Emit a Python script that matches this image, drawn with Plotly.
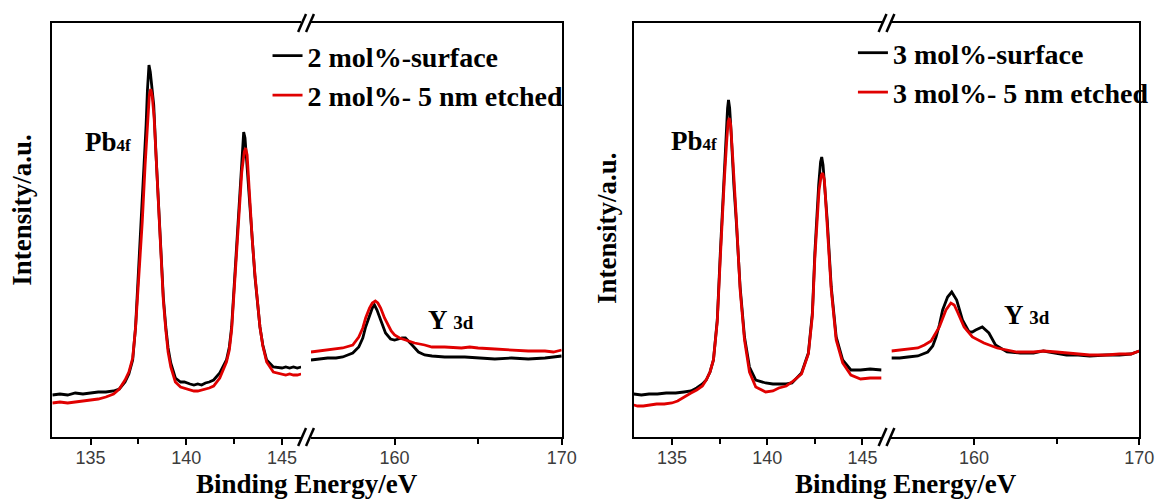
import plotly.graph_objects as go

W, H = 1171, 499

# ---------------- data (binding energy / eV, intensity / a.u.) ----------------
# Panel A (2 mol%), low-energy segment (Pb 4f)
a1_e_s = [133.0, 133.4, 133.8, 134.2, 134.6, 135.0, 135.4, 135.8, 136.2, 136.5, 136.8, 137.0, 137.2, 137.35,
          137.5, 137.6, 137.7, 137.8, 137.9, 137.97, 138.05, 138.12, 138.2, 138.3, 138.42, 138.57, 138.67, 138.8,
          138.93, 139.05, 139.19, 139.43, 139.7, 139.9, 140.2, 140.4, 140.6, 140.8, 141.0, 141.2, 141.43, 141.75,
          142.1, 142.25, 142.37, 142.53, 142.72, 142.85, 142.95, 143.0, 143.07, 143.2, 143.33, 143.45, 143.59,
          143.85, 144.0, 144.2, 144.55, 145.0, 145.2, 145.4, 145.6, 145.8, 146.0]
a1_i_s = [42, 43, 42, 44, 43, 44, 45, 45, 46, 48, 55, 63, 77, 110,
          165, 197, 227, 267, 312, 347, 372, 365, 349, 332, 282, 225, 177, 140,
          110, 89, 74, 59, 55, 55, 53, 52, 53, 52, 54, 55, 57, 64,
          77, 90, 110, 160, 227, 267, 297, 305, 299, 262, 227, 192, 160,
          110, 92, 77, 70, 69, 70, 69, 70, 69, 70]
a1_e_e = [133.0, 133.4, 133.8, 134.2, 134.6, 135.0, 135.4, 135.8, 136.2, 136.5, 136.8, 137.0, 137.2, 137.35,
          137.5, 137.6, 137.7, 137.85, 138.0, 138.07, 138.14, 138.22, 138.32, 138.42, 138.57, 138.67, 138.8,
          138.93, 139.05, 139.19, 139.43, 139.7, 139.9, 140.2, 140.4, 140.6, 140.8, 141.0, 141.2, 141.43, 141.75,
          142.1, 142.25, 142.37, 142.53, 142.72, 142.9, 143.03, 143.1, 143.18, 143.33, 143.45, 143.59,
          143.85, 144.0, 144.2, 144.55, 145.0, 145.2, 145.4, 145.6, 145.8, 146.0]
a1_i_e = [34, 35, 34, 35, 36, 37, 38, 40, 43, 48, 57, 65, 79, 109,
          152, 182, 215, 272, 327, 342, 348, 341, 319, 282, 225, 177, 137,
          107, 85, 70, 55, 50, 49, 47, 46, 46, 47, 48, 49, 51, 59,
          75, 87, 107, 153, 215, 265, 285, 289, 282, 232, 197, 162,
          110, 91, 75, 65, 63, 62, 63, 62, 62, 63]
# Panel A, high-energy segment (Y 3d)
a2_e_s = [155.0, 155.5, 156.0, 156.5, 156.9, 157.2, 157.5, 157.86, 158.1, 158.27, 158.5, 158.67, 158.8, 158.95,
          159.17, 159.46, 159.76, 160.0, 160.24, 160.45, 160.65, 160.85, 161.05, 161.43, 161.8, 162.24, 163.0,
          164.2, 165.0, 166.0, 167.0, 168.0, 169.0, 169.5, 170.0]
a2_i_s = [77, 78, 79, 79, 80, 82, 84, 90, 99, 110, 122, 129, 132, 127,
          117, 104, 98, 97, 98, 99, 99, 96, 92, 85, 82, 81, 80,
          80, 79, 78, 79, 78, 79, 80, 81]
a2_e_e = [155.0, 155.5, 156.0, 156.5, 156.9, 157.5, 157.86, 158.1, 158.27, 158.5, 158.67, 158.85, 159.0, 159.17,
          159.4, 159.8, 160.0, 160.3, 160.65, 161.2, 161.8, 162.24, 163.0, 164.0, 164.5, 165.0, 166.0, 167.0,
          168.0, 169.0, 169.5, 170.0]
a2_i_e = [85, 86, 87, 88, 89, 92, 100, 109, 119, 129, 134, 136, 134, 129,
          119, 106, 102, 99, 97, 94, 92, 90, 90, 89, 90, 89, 88, 87,
          86, 86, 85, 87]

# Panel B (3 mol%), low-energy segment (Pb 4f)
b1_e_s = [133.0, 133.4, 133.8, 134.24, 134.7, 135.2, 135.63, 136.0, 136.3, 136.6, 136.8, 137.0, 137.18, 137.38,
          137.54, 137.62, 137.75, 137.85, 137.92, 137.97, 138.03, 138.1, 138.15, 138.25, 138.38, 138.58, 138.81,
          139.07, 139.4, 139.92, 140.3, 140.61, 141.0, 141.3, 141.8, 142.16, 142.37, 142.5, 142.59, 142.7, 142.8,
          142.86, 142.93, 143.05, 143.15, 143.36, 143.62, 143.96, 144.39, 144.9, 145.4, 146.0]
b1_i_s = [43, 42, 43, 43, 44, 44, 45, 46, 49, 53, 57, 65, 77, 117,
          184, 215, 272, 307, 329, 337, 329, 307, 285, 252, 215, 150, 100,
          70, 57, 54, 53, 53, 53, 54, 64, 84, 124, 184, 217, 252, 275,
          280, 272, 242, 217, 150, 100, 77, 67, 67, 68, 67]
b1_e_e = [133.0, 133.2, 133.5, 133.8, 134.2, 134.6, 135.0, 135.3, 135.63, 136.0, 136.3, 136.6, 136.8, 137.0,
          137.18, 137.38, 137.54, 137.62, 137.75, 137.88, 137.95, 138.01, 138.08, 138.2, 138.3, 138.4, 138.58,
          138.81, 139.07, 139.4, 139.92, 140.3, 140.61, 141.0, 141.3, 141.8, 142.16, 142.37, 142.5, 142.59,
          142.72, 142.84, 142.91, 143.0, 143.15, 143.36, 143.62, 143.96, 144.39, 144.9, 145.4, 146.0]
b1_i_e = [32, 31, 31, 32, 33, 33, 34, 36, 40, 44, 47, 51, 57, 65,
          77, 115, 179, 212, 257, 297, 315, 319, 313, 277, 247, 212, 147,
          97, 65, 50, 45, 46, 49, 51, 55, 63, 83, 121, 179, 211,
          247, 262, 264, 257, 215, 147, 97, 74, 62, 58, 59, 59]
# Panel B, high-energy segment (Y 3d)
b2_e_s = [155.0, 155.5, 156.0, 156.6, 157.2, 157.5, 157.7, 157.9, 158.1, 158.4, 158.65, 158.95, 159.3, 159.7,
          159.9, 160.1, 160.5, 160.9, 161.3, 162.0, 162.8, 163.6, 164.2, 165.0, 165.6, 166.3, 167.0, 168.0,
          168.8, 169.5, 170.0]
b2_i_s = [79, 79, 80, 81, 85, 91, 100, 112, 127, 140, 145, 137, 117, 105,
          105, 107, 110, 104, 92, 85, 84, 84, 86, 84, 82, 82, 81, 82,
          82, 83, 86]
b2_e_e = [155.0, 155.5, 156.0, 156.6, 157.0, 157.4, 157.9, 158.3, 158.6, 158.8, 159.0, 159.4, 159.9, 160.6,
          161.4, 162.0, 162.6, 163.6, 164.2, 165.0, 165.6, 166.3, 167.0, 168.0, 168.8, 169.5, 170.0]
b2_i_e = [86, 87, 88, 89, 92, 96, 110, 127, 134, 132, 125, 110, 100, 94,
          89, 87, 85, 85, 86, 85, 84, 83, 82, 82, 83, 83, 86]

names_a = ["2 mol%-surface", "2 mol%- 5 nm etched"]
names_b = ["3 mol%-surface", "3 mol%- 5 nm etched"]
low_ticks = [135, 140, 145]
low_minor = [137.5, 142.5]
high_ticks = [160, 170]
high_minor = [165]
low_range = [133, 146]
high_range = [155, 170]
y_range = [0, 414]

# ---------------- layout geometry (pixels) ----------------
TOP, BOT = 23, 437
A1, A2 = (53, 305), (315, 569)
B1, B2 = (642, 893), (903, 1154)

def fx(p):
    return p / W

def fy(p):
    return 1 - p / H

BLACK = "#000000"
RED = "#e00000"
SERIF = "Liberation Serif, Times New Roman, serif"
SANS = "Liberation Sans, Arial, sans-serif"

fig = go.Figure()

def add_pair(xa, ya, e_s, i_s, e_e, i_e, names, legend, show):
    fig.add_trace(go.Scatter(x=e_s, y=i_s, mode="lines", name=names[0], xaxis=xa, yaxis=ya,
                             line=dict(color=BLACK, width=2.8), legend=legend, legendgroup=legend + "s",
                             showlegend=show))
    fig.add_trace(go.Scatter(x=e_e, y=i_e, mode="lines", name=names[1], xaxis=xa, yaxis=ya,
                             line=dict(color=RED, width=2.8), legend=legend, legendgroup=legend + "e",
                             showlegend=show))

add_pair("x", "y", a1_e_s, a1_i_s, a1_e_e, a1_i_e, names_a, "legend", True)
add_pair("x2", "y2", a2_e_s, a2_i_s, a2_e_e, a2_i_e, names_a, "legend", False)
add_pair("x3", "y3", b1_e_s, b1_i_s, b1_e_e, b1_i_e, names_b, "legend2", True)
add_pair("x4", "y4", b2_e_s, b2_i_s, b2_e_e, b2_i_e, names_b, "legend2", False)

def xax(dom, rng, ticks, minor, anchor):
    return dict(domain=[fx(dom[0]), fx(dom[1])], range=rng, anchor=anchor,
                showline=True, linecolor=BLACK, linewidth=2, mirror=True,
                showgrid=False, zeroline=False,
                tickmode="array", tickvals=ticks, ticktext=[str(t) for t in ticks],
                ticks="outside", ticklen=6, tickwidth=2, tickcolor=BLACK,
                ticklabelstandoff=-3,
                tickfont=dict(family=SANS, size=18, color="#3c3c3c"),
                minor=dict(tickmode="array", tickvals=minor, ticks="outside", ticklen=5,
                           tickwidth=2, tickcolor=BLACK, showgrid=False))

def yax(anchor, side):
    return dict(domain=[fy(BOT), fy(TOP)], range=y_range, anchor=anchor, side=side,
                showline=True, linecolor=BLACK, linewidth=2, mirror=False,
                showgrid=False, zeroline=False, showticklabels=False, ticks="")

leg_font = dict(family=SERIF, size=28, color=BLACK, weight="bold")
fig.update_layout(
    width=W, height=H, margin=dict(l=0, r=0, t=0, b=0),
    paper_bgcolor="white", plot_bgcolor="white",
    xaxis=xax(A1, low_range, low_ticks, low_minor, "y"),
    xaxis2=xax(A2, high_range, high_ticks, high_minor, "y2"),
    xaxis3=xax(B1, low_range, low_ticks, low_minor, "y3"),
    xaxis4=xax(B2, high_range, high_ticks, high_minor, "y4"),
    yaxis=yax("x", "left"),
    yaxis2=yax("x2", "right"),
    yaxis3=yax("x3", "left"),
    yaxis4=yax("x4", "right"),
    legend=dict(x=fx(271), y=fy(31), xanchor="left", yanchor="top", bgcolor="rgba(0,0,0,0)",
                borderwidth=0, font=leg_font, tracegroupgap=0),
    legend2=dict(x=fx(864), y=fy(28), xanchor="left", yanchor="top", bgcolor="rgba(0,0,0,0)",
                 borderwidth=0, font=leg_font, tracegroupgap=0),
    showlegend=True,
)

ann_font = dict(family=SERIF, size=27, color=BLACK, weight="bold")
annotations = [
    dict(text="Binding Energy/eV", x=fx(311), y=fy(484), xanchor="center", yanchor="middle"),
    dict(text="Binding Energy/eV", x=fx(918), y=fy(484), xanchor="center", yanchor="middle"),
    dict(text="Intensity/a.u.", x=fx(22), y=fy(210), xanchor="center", yanchor="middle", textangle=-90),
    dict(text="Intensity/a.u.", x=fx(615), y=fy(228), xanchor="center", yanchor="middle", textangle=-90),
    dict(text="Pb<span style='font-size:17px'>4f</span>", x=fx(84), y=fy(142), xanchor="left", yanchor="middle"),
    dict(text="Pb<span style='font-size:17px'>4f</span>", x=fx(678), y=fy(141), xanchor="left", yanchor="middle"),
    dict(text="Y <span style='font-size:19px'>3d</span>", x=fx(432), y=fy(320), xanchor="left", yanchor="middle"),
    dict(text="Y <span style='font-size:19px'>3d</span>", x=fx(1015), y=fy(315), xanchor="left", yanchor="middle"),
]
for a in annotations:
    a.update(xref="paper", yref="paper", showarrow=False, font=ann_font)
fig.update_layout(annotations=annotations)

# axis-break marks "//"
shapes = []
for g0, g1 in [(A1[1], A2[0]), (B1[1], B2[0])]:
    for yy in (TOP, BOT):
        for xc in (g0 + 1, g1 - 1):
            shapes.append(dict(type="line", xref="paper", yref="paper",
                               x0=fx(xc - 4), y0=fy(yy + 9), x1=fx(xc + 4), y1=fy(yy - 9),
                               line=dict(color=BLACK, width=2.5)))
fig.update_layout(shapes=shapes)

fig.write_html("out.html", config={"displayModeBar": False},
               post_script="document.body.style.margin='0px';document.body.style.overflow='hidden';")
